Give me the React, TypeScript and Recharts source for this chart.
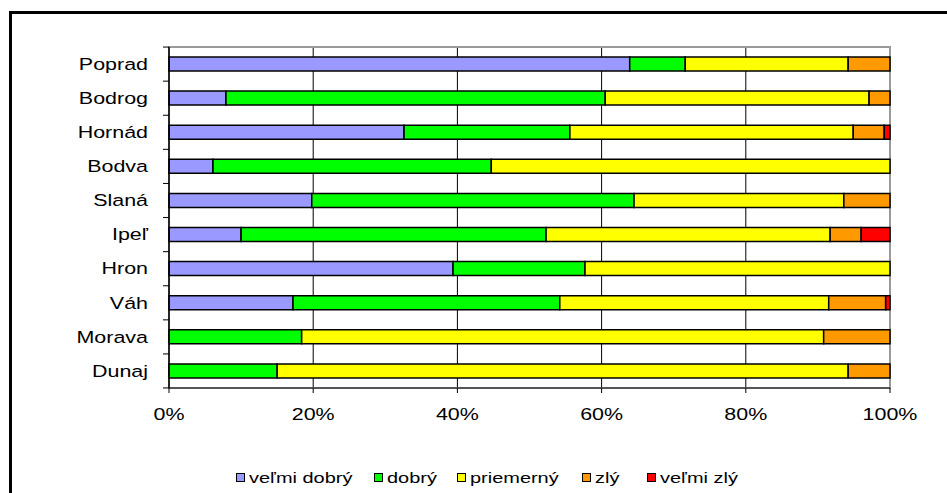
import { BarChart, Bar, XAxis, YAxis, CartesianGrid, Legend, ReferenceArea } from "recharts";

// rivers, top to bottom
const categories = ["Poprad", "Bodrog", "Hornád", "Bodva", "Slaná", "Ipeľ", "Hron", "Váh", "Morava", "Dunaj"];

// share of each quality class, in %
const velmiDobry = [63.9, 7.9, 32.6, 6.1, 19.8, 10.0, 39.4, 17.2, 0, 0];
const dobry = [7.7, 52.6, 23.0, 38.6, 44.7, 42.3, 18.3, 37.0, 18.4, 15.0];
const priemerny = [22.6, 36.6, 39.3, 55.3, 29.1, 39.4, 42.3, 37.3, 72.4, 79.2];
const zly = [5.8, 2.9, 4.3, 0, 6.4, 4.3, 0, 7.9, 9.2, 5.8];
const velmiZly = [0, 0, 0.8, 0, 0, 4.0, 0, 0.6, 0, 0];

const xTicks = [0, 0.2, 0.4, 0.6, 0.8, 1];

const series = [
  { key: "vd", name: "veľmi dobrý", color: "#9999FF" },
  { key: "d", name: "dobrý", color: "#00FF00" },
  { key: "p", name: "priemerný", color: "#FFFF00" },
  { key: "z", name: "zlý", color: "#FF9900" },
  { key: "vz", name: "veľmi zlý", color: "#FF0000" },
];

// left edge of each legend swatch (Excel spaces them unevenly)
const legendLeft = [236, 374, 457, 582, 647];

const data = categories.map((name, i) => ({
  name,
  vd: velmiDobry[i],
  d: dobry[i],
  p: priemerny[i],
  z: zly[i],
  vz: velmiZly[i],
}));

const FONT = "'Liberation Sans', Arial, sans-serif";
const STRETCH = 1.3; // the source text is stretched horizontally

const CategoryTick = (props: any) => {
  const { x, y, payload, index } = props;
  const half = 17;
  return (
    <g>
      <line x1={x - 6} x2={x} y1={y - half} y2={y - half} stroke="#000" strokeWidth={1} />
      {index === categories.length - 1 && (
        <line x1={x - 6} x2={x} y1={y + half} y2={y + half} stroke="#000" strokeWidth={1} />
      )}
      <g transform={`translate(${x - 21},${y}) scale(${STRETCH},1)`}>
        <text x={0} y={0} dy="0.35em" textAnchor="end" fontFamily={FONT} fontSize={16.5} fill="#000">
          {payload.value}
        </text>
      </g>
    </g>
  );
};

const PercentTick = (props: any) => {
  const { x, y, payload } = props;
  return (
    <g transform={`translate(${x},${y}) scale(${STRETCH},1)`}>
      <text x={0} y={0} dy="0.71em" textAnchor="middle" fontFamily={FONT} fontSize={16.5} fill="#000">
        {`${Math.round(payload.value * 100)}%`}
      </text>
    </g>
  );
};

const renderLegend = () => (
  <div style={{ position: "relative", height: 20, fontFamily: FONT, fontSize: 15, color: "#000" }}>
    {series.map((s, i) => (
      <div
        key={s.key}
        style={{ position: "absolute", left: legendLeft[i], top: 0, height: 20, display: "flex", alignItems: "center" }}
      >
        <span
          style={{
            display: "inline-block",
            width: 7,
            height: 7,
            border: "1px solid #000",
            background: s.color,
            marginRight: 4,
          }}
        />
        <span
          style={{
            display: "inline-block",
            whiteSpace: "nowrap",
            transform: `scaleX(1.33)`,
            transformOrigin: "left center",
          }}
        >
          {s.name}
        </span>
      </div>
    ))}
  </div>
);

export default function App() {
  return (
    <div style={{ position: "absolute", left: 0, top: 0, width: 947, height: 493, background: "#fff", overflow: "hidden" }}>
      <div
        style={{
          position: "absolute",
          left: 9,
          top: 11,
          width: 1000,
          height: 600,
          borderLeft: "3px solid #000",
          borderTop: "3px solid #000",
        }}
      />
      <BarChart
        width={947}
        height={493}
        data={data}
        layout="vertical"
        stackOffset="expand"
        barSize={14}
        margin={{ top: 47, right: 57, bottom: 6, left: 0 }}
        style={{ position: "absolute", left: 0, top: 0 }}
      >
        <CartesianGrid horizontal={false} stroke="#000" strokeWidth={1} />
        <XAxis
          type="number"
          domain={[0, 1]}
          ticks={xTicks}
          height={79}
          tickSize={5}
          tickMargin={15}
          axisLine={{ stroke: "#555", strokeWidth: 2 }}
          tickLine={{ stroke: "#000" }}
          tick={<PercentTick />}
        />
        <YAxis
          type="category"
          dataKey="name"
          width={169}
          tickSize={0}
          tickMargin={0}
          tickLine={false}
          axisLine={{ stroke: "#000", strokeWidth: 1.5 }}
          tick={<CategoryTick />}
          interval={0}
        />
        {series.map((s) => (
          <Bar
            key={s.key}
            dataKey={s.key}
            name={s.name}
            stackId="a"
            fill={s.color}
            stroke="#000"
            strokeWidth={1.5}
            isAnimationActive={false}
          />
        ))}
        <ReferenceArea x1={0} x2={1} fill="none" stroke="#999" strokeWidth={2} ifOverflow="visible" />
        <Legend verticalAlign="bottom" content={renderLegend} wrapperStyle={{ height: 20 }} />
      </BarChart>
    </div>
  );
}
